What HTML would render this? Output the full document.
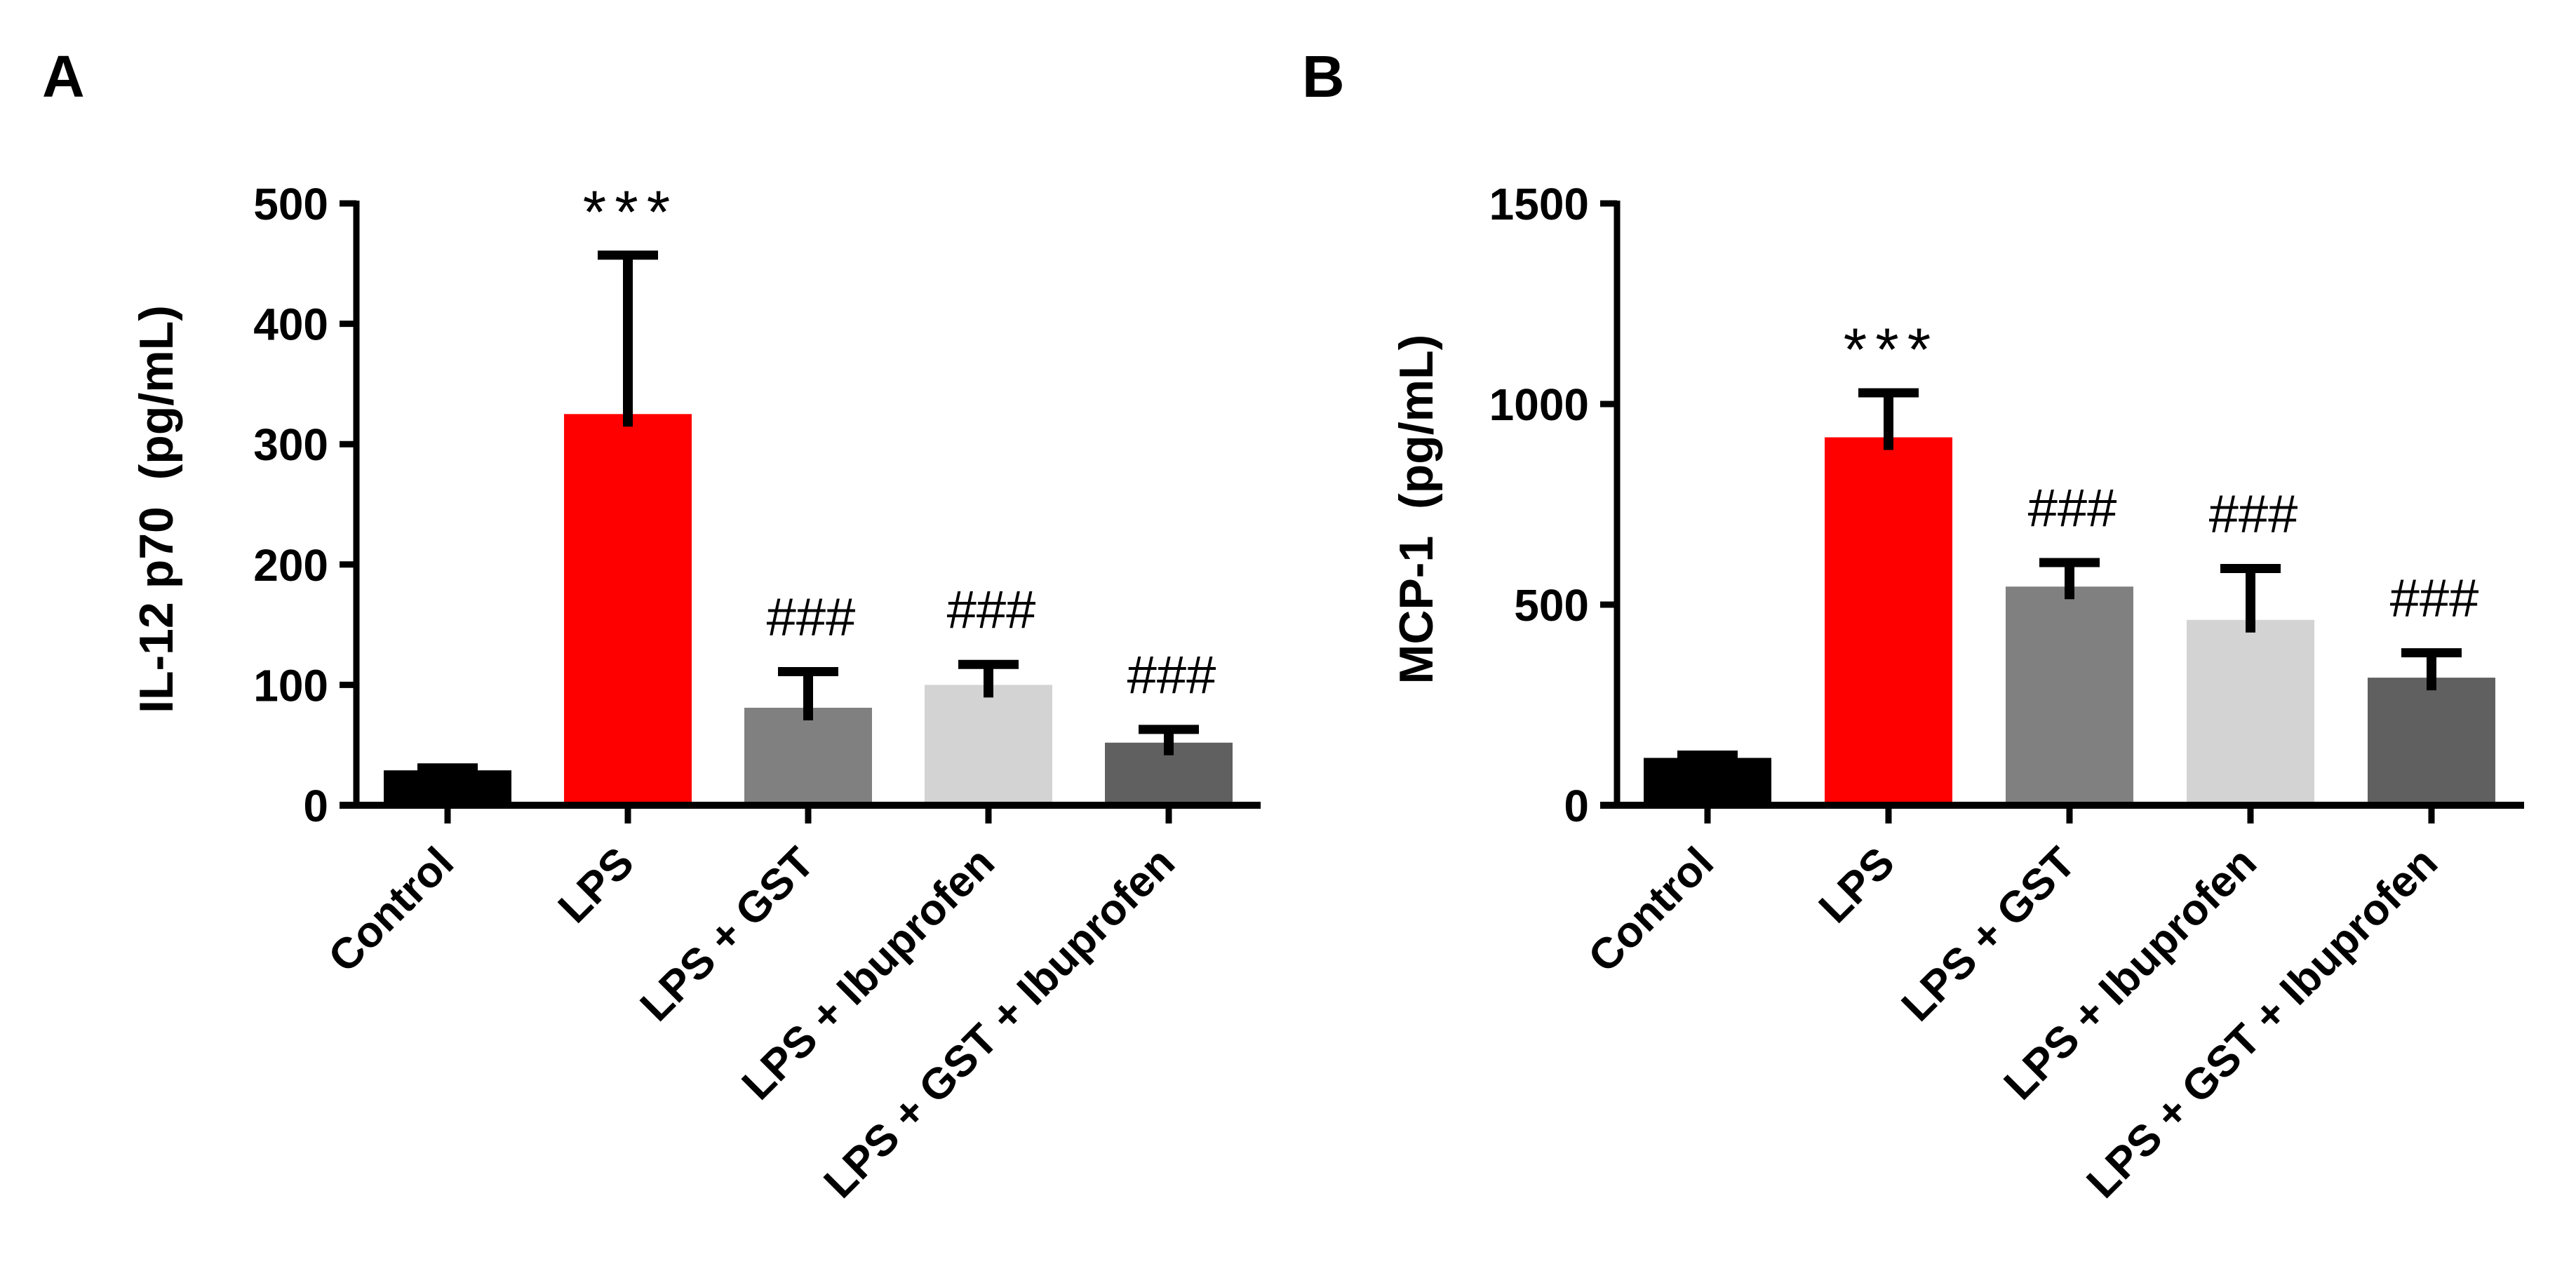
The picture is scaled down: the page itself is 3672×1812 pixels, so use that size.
<!DOCTYPE html>
<html><head><meta charset="utf-8"><style>
html,body{margin:0;padding:0;background:#fff;}
svg{display:block;}
text{font-family:"Liberation Sans",Arial,sans-serif;white-space:pre;}
</style></head><body>
<svg id="fig" width="3672" height="1812" viewBox="0 0 3672 1812" xmlns="http://www.w3.org/2000/svg">
<rect width="3672" height="1812" fill="#fff"/>
</svg>
<script>
const categories = ["Control","LPS","LPS + GST","LPS + Ibuprofen","LPS + GST + Ibuprofen"];
const barColors = ["#000000","#ff0000","#808080","#d3d3d3","#606060"];
const valuesA = [29, 325, 81, 100, 52];
const errorsA = [31, 457, 111, 117, 63];
const marksA = ["", "***", "###", "###", "###"];
const ticksA = [0, 100, 200, 300, 400, 500];
const valuesB = [118, 917, 545, 462, 318];
const errorsB = [125, 1028, 605, 590, 380];
const marksB = ["", "***", "###", "###", "###"];
const ticksB = [0, 500, 1000, 1500];

const NS = "http://www.w3.org/2000/svg";
const svg = document.getElementById('fig');
function mk(tag, attrs, parent){
  const e = document.createElementNS(NS, tag);
  for (const k in attrs) e.setAttribute(k, attrs[k]);
  (parent||svg).appendChild(e);
  return e;
}

function drawChart(cfg){
  const g = mk('g', {});
  
  
  const y0 = 1148, yTop = 290;
  const yScale = v => y0 - (v / cfg.max) * (y0 - yTop);
  const xPos = i => cfg.x0 + i * cfg.step;

  const pl = mk('text', {x: cfg.letterX, y: 138, 'font-size': 84, 'font-weight': 'bold', fill: '#000'}, g);
  pl.textContent = cfg.letter;
  
  

  cfg.values.forEach((v, i) => {
    const cx = xPos(i);
    const r = mk('rect', {x: cx - 91, y: yScale(v), width: 182, height: y0 - yScale(v), fill: barColors[i]}, g);
    
    
    const ey = yScale(cfg.errors[i]);
    const el = mk('line', {x1: cx, x2: cx, y1: yScale(v) + 18, y2: ey, stroke: '#000', 'stroke-width': 14}, g);
    
    
    const cap = mk('line', {x1: cx - 43, x2: cx + 43, y1: ey, y2: ey, stroke: '#000', 'stroke-width': 13}, g);
    
    
    if (cfg.marks[i]) {
      const isStar = cfg.marks[i] === '***';
      const t = mk('text', {x: cx + 4, y: ey - (isStar ? 32 : 52), 'text-anchor': 'middle',
        'font-size': isStar ? 86 : 76, 'letter-spacing': isStar ? 12 : 0, fill: '#000'}, g);
      t.textContent = cfg.marks[i];
      
      
    }
    const tk = mk('line', {x1: cx, x2: cx, y1: y0, y2: y0 + 26, stroke: '#000', 'stroke-width': 9}, g);
    
    
    const lx = cx + 12, ly = y0 + 86;
    const lab = mk('text', {x: lx, y: ly, 'text-anchor': 'end', 'font-size': 62, 'font-weight': 'bold',
      transform: 'rotate(-45 ' + lx + ' ' + ly + ')', fill: '#000'}, g);
    lab.textContent = categories[i];
    
    
  });

  const ya = mk('line', {x1: cfg.axisX, x2: cfg.axisX, y1: yTop - 4, y2: y0 + 4, stroke: '#000', 'stroke-width': 9}, g);
  
  
  const xa = mk('line', {x1: cfg.axisX - 24, x2: cfg.axisEnd, y1: y0, y2: y0, stroke: '#000', 'stroke-width': 10}, g);
  
  
  cfg.ticks.forEach(t => {
    const y = yScale(t);
    const tl = mk('line', {x1: cfg.axisX - 24, x2: cfg.axisX, y1: y, y2: y, stroke: '#000', 'stroke-width': 9}, g);
    
    
    const tt = mk('text', {x: cfg.axisX - 40, y: y + 23, 'text-anchor': 'end', 'font-size': 64, 'font-weight': 'bold', fill: '#000'}, g);
    tt.textContent = t;
    
    
  });
  const yt = mk('text', {x: cfg.titleX, y: 726, 'text-anchor': 'middle', 'font-size': 68, 'font-weight': 'bold',
    transform: 'rotate(-90 ' + cfg.titleX + ' 726)', fill: '#000'}, g);
  yt.textContent = cfg.title;
  
  
}

drawChart({name: 'chart-il12', letter: 'A', letterX: 60, values: valuesA, errors: errorsA, marks: marksA,
  ticks: ticksA, max: 500, x0: 638, step: 257, axisX: 508, axisEnd: 1797, titleX: 246,
  title: 'IL-12 p70  (pg/mL)'});
drawChart({name: 'chart-mcp1', letter: 'B', letterX: 1856, values: valuesB, errors: errorsB, marks: marksB,
  ticks: ticksB, max: 1500, x0: 2434, step: 258, axisX: 2305, axisEnd: 3598, titleX: 2042,
  title: 'MCP-1  (pg/mL)'});
</script>
</body></html>
